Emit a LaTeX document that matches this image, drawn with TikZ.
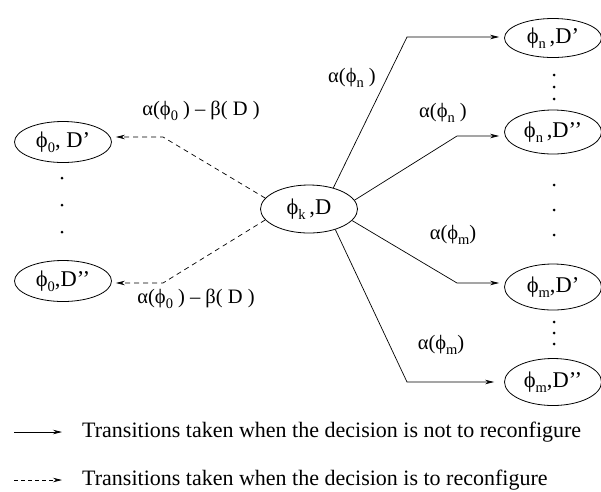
\documentclass[tikz,border=0pt]{standalone}
\usepackage{fontspec}
\setmainfont{Liberation Serif}
\usetikzlibrary{arrows.meta,shapes.geometric}

% lowered subscript used in the state labels
\newcommand\lowsub[1]{\raisebox{-0.5ex}{\fontsize{14.5}{14.5}\selectfont #1}}

\tikzset{
  lbl/.style={font=\fontsize{20.5}{24}\selectfont, inner sep=1pt},
  legendtext/.style={font=\fontsize{22}{26}\selectfont, inner sep=1pt},
  state/.style={ellipse, draw, line width=0.8pt, minimum width=97pt,
    minimum height=41pt, inner sep=0pt, font=\fontsize{22.5}{26}\selectfont},
  tipend/.style={-{Stealth[length=9pt,width=4.5pt]}},
  keep/.style={draw, line width=0.7pt, tipend},
  reconf/.style={draw, line width=0.7pt, dash pattern=on 5pt off 4pt, tipend},
  dotmark/.style={fill=black}
}

\begin{document}
\begin{tikzpicture}[x=1pt,y=-1pt]
\useasboundingbox (0,0) rectangle (601,491);

% states
\node[state, minimum height=48pt] (C) at (309,209) {ϕ\lowsub{k}\,,D};
\node[state] (L1) at (63,142) {ϕ\lowsub{0}, D’};
\node[state] (L2) at (63,281) {ϕ\lowsub{0},D’’};
\node[state, minimum height=39pt] (N1) at (553,38)  {ϕ\lowsub{n}\,,D’};
\node[state, minimum height=44pt] (N2) at (553,132) {ϕ\lowsub{n}\,,D’’};
\node[state, minimum height=46pt] (M1) at (553,287) {ϕ\lowsub{m},D’};
\node[state, minimum height=47pt] (M2) at (553,382) {ϕ\lowsub{m},D’’};

% elided states
\foreach \y in {178,205,232} \fill[dotmark] (62,\y) circle (1.5pt);
\foreach \y in {75,87,99} \fill[dotmark] (554,\y) circle (1.5pt);
\foreach \y in {185,210,235} \fill[dotmark] (554,\y) circle (1.5pt);
\foreach \y in {322,333,344} \fill[dotmark] (554,\y) circle (1.5pt);

% bends of the connectors
\coordinate (a1) at (407,37);
\coordinate (a2) at (457,136);
\coordinate (a3) at (457,283);
\coordinate (a4) at (407,382);
\coordinate (d1) at (163,137);
\coordinate (d2) at (163,283);

% transitions without reconfiguration
\draw[keep, shorten >=5pt] (C.41)  -- (a1) -- (a1 -| N1.west);
\draw[keep, shorten >=5pt] (C.11)  -- (a2) -- (a2 -| N2.west);
\draw[keep, shorten >=5pt] (C.-15) -- (a3) -- (a3 -| M1.west);
\draw[keep, shorten >=10pt] (C.-38) -- (a4) -- (a4 -| M2.west);

% transitions with reconfiguration
\draw[reconf, shorten >=4pt] (C.166) -- (d1) -- (d1 -| L1.east);
\draw[reconf, shorten >=4pt] (C.194) -- (d2) -- (d2 -| L2.east);

% transition weights
\node[lbl] (w1) at (352,78)  {α(ϕ\lowsub{n} )};
\node[lbl] (w2) at (443,113) {α(ϕ\lowsub{n} )};
\node[lbl] (w3) at (453,235) {α(ϕ\lowsub{m})};
\node[lbl] (w4) at (441,345) {α(ϕ\lowsub{m})};
\node[lbl] (w5) at (201,111) {α(ϕ\lowsub{0} ) – β( D )};
\node[lbl] (w6) at (196,299) {α(ϕ\lowsub{0} ) – β( D )};

% legend
\node[legendtext, anchor=west] (k1) at (81,432) {Transitions taken when the decision is not to reconfigure};
\node[legendtext, anchor=west] (k2) at (81,480) {Transitions taken when the decision is to reconfigure};
\coordinate (s1) at (14,432);
\coordinate (s2) at (14,480);
\draw[keep, shorten >=19pt] (s1) -- (k1.west);
\draw[reconf, dash pattern=on 4pt off 3pt, shorten >=19pt] (s2) -- (k2.west);
\end{tikzpicture}
\end{document}
